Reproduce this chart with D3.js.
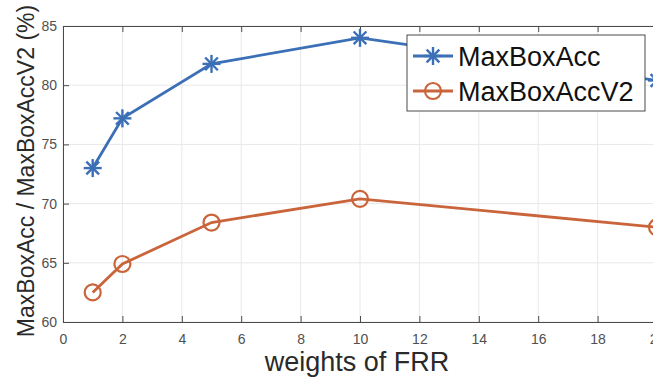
<!DOCTYPE html>
<html>
<head>
<meta charset="utf-8">
<script src="https://cdn.jsdelivr.net/npm/d3@7"></script>
<style>
  body { margin: 0; background: #fff; }
  svg { display: block; font-family: "Liberation Sans", Arial, sans-serif; }
</style>
</head>
<body>
<div id="chart"></div>
<script>
// Data
const weights = [1, 2, 5, 10, 20];
const maxBoxAcc = [73.0, 77.2, 81.8, 84.0, 80.4];
const maxBoxAccV2 = [62.5, 64.9, 68.4, 70.4, 68.0];
const seriesNames = ["MaxBoxAcc", "MaxBoxAccV2"];
const xTicks = [0, 2, 4, 6, 8, 10, 12, 14, 16, 18, 20];
const yTicks = [60, 65, 70, 75, 80, 85];

function createLineChart(containerId) {
    const width = 653;
    const height = 381;
    const margin = { top: 26, right: -4, bottom: 59, left: 63 };
    const innerWidth = width - margin.left - margin.right;
    const innerHeight = height - margin.top - margin.bottom;

    const blue = "#3b6fb6";
    const orange = "#c9643b";

    const svg = d3.select("#" + containerId)
        .append("svg")
        .attr("width", width)
        .attr("height", height);

    const g = svg.append("g")
        .attr("transform", `translate(${margin.left},${margin.top})`);

    const x = d3.scaleLinear().domain([0, 20]).range([0, innerWidth]);
    const y = d3.scaleLinear().domain([60, 85]).range([innerHeight, 0]);

    // Grid
    g.append("g").selectAll("line")
        .data(xTicks)
        .enter().append("line")
        .attr("x1", d => x(d)).attr("x2", d => x(d))
        .attr("y1", 0).attr("y2", innerHeight)
        .attr("stroke", "#e8e8e8").attr("stroke-width", 1);
    g.append("g").selectAll("line")
        .data(yTicks)
        .enter().append("line")
        .attr("x1", 0).attr("x2", innerWidth)
        .attr("y1", d => y(d)).attr("y2", d => y(d))
        .attr("stroke", "#e8e8e8").attr("stroke-width", 1);

    // Axes (MATLAB style, ticks pointing inward)
    const xAxis = g.append("g")
        .attr("transform", `translate(0,${innerHeight})`)
        .call(d3.axisBottom(x).tickValues(xTicks).tickSize(-6).tickPadding(12));
    const yAxis = g.append("g")
        .call(d3.axisLeft(y).tickValues(yTicks).tickSize(-6).tickPadding(6));
    const xTop = g.append("g")
        .call(d3.axisTop(x).tickValues(xTicks).tickSize(-6).tickFormat(""));

    [xAxis, yAxis, xTop].forEach(a => {
        a.select(".domain").attr("stroke", "#4a4a4a");
        a.selectAll(".tick line").attr("stroke", "#4a4a4a");
        a.selectAll("text").attr("fill", "#505050").style("font-size", "14px");
    });

    // Lines
    const line = d3.line().x((d, i) => x(weights[i])).y(d => y(d));
    const series = [
        { name: seriesNames[0], values: maxBoxAcc, color: blue, marker: "star" },
        { name: seriesNames[1], values: maxBoxAccV2, color: orange, marker: "circle" }
    ];

    function drawMarker(sel, type, color) {
        if (type === "circle") {
            sel.append("circle").attr("r", 8)
                .attr("fill", "none").attr("stroke", color).attr("stroke-width", 2.2);
        } else {
            const r = 9;
            [0, 45, 90, 135].forEach(a => {
                const rad = a * Math.PI / 180;
                sel.append("line")
                    .attr("x1", -r * Math.cos(rad)).attr("y1", -r * Math.sin(rad))
                    .attr("x2", r * Math.cos(rad)).attr("y2", r * Math.sin(rad))
                    .attr("stroke", color).attr("stroke-width", 2.4);
            });
        }
    }

    series.forEach(s => {
        g.append("path")
            .datum(s.values)
            .attr("d", line)
            .attr("fill", "none")
            .attr("stroke", s.color)
            .attr("stroke-width", 2.8);
        s.values.forEach((v, i) => {
            const m = g.append("g").attr("transform", `translate(${x(weights[i])},${y(v)})`);
            drawMarker(m, s.marker, s.color);
        });
    });

    // Legend
    const legend = svg.append("g").attr("transform", "translate(407,35)");
    legend.append("rect")
        .attr("width", 238).attr("height", 76)
        .attr("fill", "#fff").attr("stroke", "#4a4a4a").attr("stroke-width", 1);
    series.forEach((s, i) => {
        const ly = 21 + i * 35;
        legend.append("line")
            .attr("x1", 6).attr("x2", 46).attr("y1", ly).attr("y2", ly)
            .attr("stroke", s.color).attr("stroke-width", 2.8);
        const m = legend.append("g").attr("transform", `translate(26,${ly})`);
        drawMarker(m, s.marker, s.color);
        legend.append("text")
            .attr("x", 51).attr("y", ly + 10)
            .attr("fill", "#111")
            .style("font-size", "27px")
            .text(s.name);
    });

    // Axis titles
    svg.append("text")
        .attr("x", margin.left + x(10) - 3)
        .attr("y", 371)
        .attr("text-anchor", "middle")
        .attr("fill", "#2a2a2a")
        .style("font-size", "27px")
        .text("weights of FRR");

    svg.append("text")
        .attr("transform", `translate(34,${margin.top + innerHeight / 2 - 3}) rotate(-90)`)
        .attr("text-anchor", "middle")
        .attr("fill", "#2a2a2a")
        .style("font-size", "23px")
        .text("MaxBoxAcc / MaxBoxAccV2 (%)");
}

createLineChart("chart");
</script>
</body>
</html>
